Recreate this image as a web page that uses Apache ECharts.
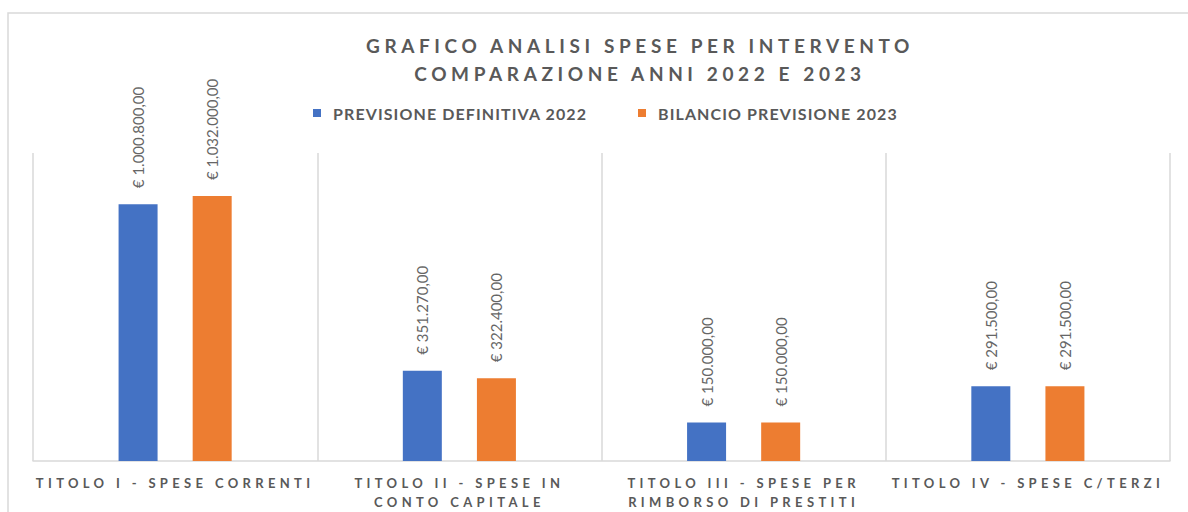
<!DOCTYPE html>
<html>
<head>
<meta charset="utf-8">
<script src="https://cdn.jsdelivr.net/npm/echarts@6/dist/echarts.min.js"></script>
<style>
  html, body { margin: 0; padding: 0; background: #fff; }
  #main { width: 1188px; height: 512px; }
  /* letter spaced text like the original (title 19px, legend 16px, axis labels 13px) */
  #main text[style*="19px"] { letter-spacing: 4.6px; }
  #main text[style*="16px"] { letter-spacing: 1.1px; }
  #main text[style*="13px"] { letter-spacing: 4.35px; }
</style>
</head>
<body>
<div id="main"></div>
<script>
var categories = [
  'TITOLO I - SPESE CORRENTI',
  'TITOLO II - SPESE IN CONTO CAPITALE',
  'TITOLO III - SPESE PER RIMBORSO DI PRESTITI',
  'TITOLO IV - SPESE C/TERZI'
];
var tickLabels = [
  'TITOLO I - SPESE CORRENTI',
  'TITOLO II - SPESE IN\nCONTO CAPITALE',
  'TITOLO III - SPESE PER\nRIMBORSO DI PRESTITI',
  'TITOLO IV - SPESE C/TERZI'
];
var seriesNames = ['PREVISIONE DEFINITIVA 2022', 'BILANCIO PREVISIONE 2023'];
var previsione2022 = [1000800, 351270, 150000, 291500];
var bilancio2023 = [1032000, 322400, 150000, 291500];

var FONT = 'Lato';
var GREY = '#595959';

function euro(v) {
  var parts = v.toFixed(2).split('.');
  var intPart = parts[0].replace(/\B(?=(\d{3})+(?!\d))/g, '.');
  return '€ ' + intPart + ',' + parts[1];
}

var barLabel = {
  show: true,
  position: 'top',
  rotate: 90,
  align: 'left',
  verticalAlign: 'middle',
  distance: 16,
  color: '#666666',
  fontFamily: FONT,
  fontWeight: 'normal',
  fontSize: 15,
  formatter: function (p) { return euro(p.value); }
};

var chartDom = document.getElementById('main');
var myChart = echarts.init(chartDom, null, { renderer: 'svg' });
var option;

option = {
  animation: false,
  title: {
    text: 'GRAFICO ANALISI SPESE PER INTERVENTO\nCOMPARAZIONE ANNI 2022 E 2023',
    left: 640,
    top: 31,
    padding: 0,
    textAlign: 'center',
    textStyle: {
      fontFamily: FONT,
      fontSize: 19,
      fontWeight: 'bold',
      color: GREY,
      lineHeight: 28
    }
  },
  legend: {
    data: seriesNames,
    left: 313,
    top: 105,
    padding: 0,
    icon: 'rect',
    itemWidth: 8,
    itemHeight: 8,
    // gap widened because the css letter spacing is not measured by echarts
    itemGap: 79,
    textStyle: {
      fontFamily: FONT,
      fontSize: 16,
      fontWeight: 'bold',
      color: GREY,
      padding: [0, 0, 0, 7]
    }
  },
  graphic: [
    {
      type: 'rect',
      z: -1,
      shape: { x: 8, y: 13, width: 1300, height: 600 },
      style: { fill: 'none', stroke: '#d9d9d9', lineWidth: 1.5 }
    }
  ],
  grid: {
    left: 33,
    right: 18,
    top: 153,
    bottom: 51
  },
  xAxis: {
    type: 'category',
    data: categories,
    axisLine: { lineStyle: { color: '#d9d9d9', width: 1.5 } },
    axisTick: { show: false },
    splitLine: { show: true, interval: 0, lineStyle: { color: '#d9d9d9', width: 1.5 } },
    axisLabel: {
      interval: 0,
      margin: 12,
      fontFamily: FONT,
      fontSize: 13,
      fontWeight: 'bold',
      color: GREY,
      lineHeight: 19,
      formatter: function (v, i) { return tickLabels[i]; }
    }
  },
  yAxis: {
    type: 'value',
    min: 0,
    max: 1200000,
    show: false
  },
  series: [
    {
      name: seriesNames[0],
      type: 'bar',
      data: previsione2022,
      barWidth: 39,
      barGap: '90%',
      itemStyle: { color: '#4472C4' },
      label: barLabel
    },
    {
      name: seriesNames[1],
      type: 'bar',
      data: bilancio2023,
      barWidth: 39,
      barGap: '90%',
      itemStyle: { color: '#ED7D31' },
      label: barLabel
    }
  ]
};

option && myChart.setOption(option);
</script>
</body>
</html>
